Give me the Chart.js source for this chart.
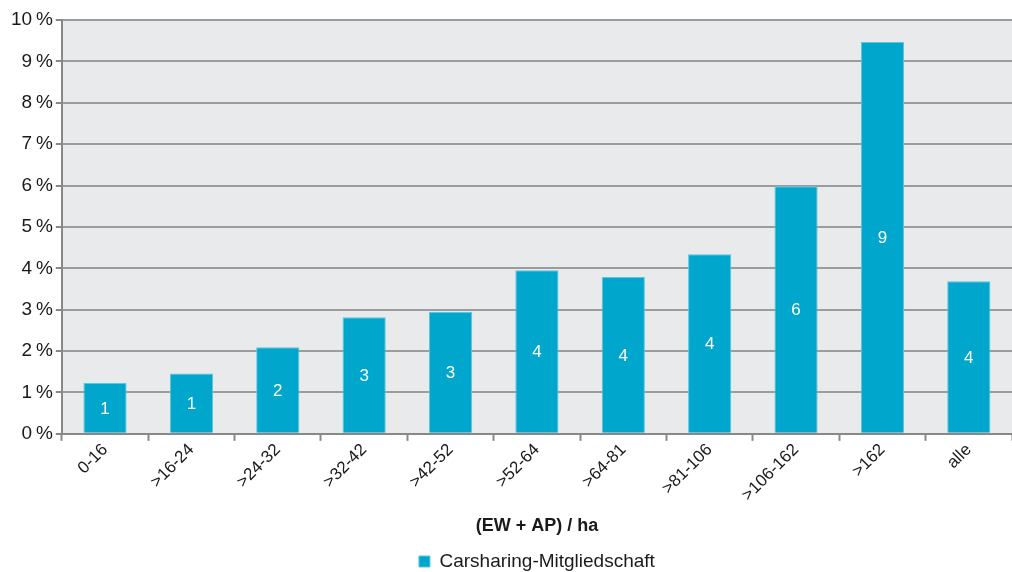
<!DOCTYPE html>
<html>
<head>
<meta charset="utf-8">
<script src="https://cdn.jsdelivr.net/npm/chart.js@4/dist/chart.umd.min.js"></script>
<style>
    body{
        margin: 0;
        background: #fff;
    }
    #wrap{
        width: 1012px;
        height: 572px;
    }
</style>
</head>
<body>
<div id="wrap"><canvas id="chart"></canvas></div>
<script>
// Dichte-Klassen (Einwohner + Arbeitsplätze je ha)
const densityClasses = ['0-16', '>16-24', '>24-32', '>32-42', '>42-52', '>52-64', '>64-81', '>81-106', '>106-162', '>162', 'alle']
// Anteil Carsharing-Mitglieder in %
const memberShare = [1.23, 1.46, 2.09, 2.82, 2.95, 3.95, 3.79, 4.34, 5.98, 9.47, 3.69]
const yTicks = [0, 1, 2, 3, 4, 5, 6, 7, 8, 9, 10]

const seriesName = 'Carsharing-Mitgliedschaft'
const axisTitle = '(EW + AP) / ha'
const barColor = '#00A6CC'

Chart.defaults.font.family = "'Liberation Sans', Arial, sans-serif"
Chart.defaults.color = '#1a1a1a'

// grey plot background
const plotBackground = {
    id: 'plotBackground',
    beforeDraw(chart){
        const {ctx, chartArea} = chart
        ctx.save()
        ctx.fillStyle = '#E9EAEC'
        ctx.fillRect(chartArea.left, chartArea.top, chartArea.right - chartArea.left, chartArea.bottom - chartArea.top)
        ctx.restore()
    }
}

// rounded value in the middle of each bar
const barLabels = {
    id: 'barLabels',
    afterDatasetsDraw(chart){
        const {ctx} = chart
        const meta = chart.getDatasetMeta(0)
        ctx.save()
        ctx.fillStyle = '#fff'
        ctx.font = "17px 'Liberation Sans', Arial, sans-serif"
        ctx.textAlign = 'center'
        ctx.textBaseline = 'middle'
        meta.data.forEach((bar, i) => {
            const mid = (bar.y + bar.base) / 2
            ctx.fillText(String(Math.round(memberShare[i])), bar.x, mid + 1)
        })
        ctx.restore()
    }
}

new Chart(document.getElementById('chart'), {
    type: 'bar',
    data: {
        labels: densityClasses,
        datasets: [{
            label: seriesName,
            data: memberShare,
            backgroundColor: barColor,
            borderColor: '#5CC6DE',
            borderWidth: 1,
            barPercentage: 0.5,
            categoryPercentage: 1,
        }]
    },
    options: {
        responsive: true,
        maintainAspectRatio: false,
        animation: false,
        layout: {
            padding: {top: 20, right: 0, left: 8, bottom: -9}
        },
        plugins: {
            tooltip: {enabled: false},
            legend: {
                position: 'bottom',
                fullSize: false,
                labels: {
                    boxWidth: 11,
                    boxHeight: 11,
                    padding: 0,
                    color: '#1a1a1a',
                    font: {size: 19}
                }
            }
        },
        scales: {
            x: {
                offset: true,
                grid: {
                    offset: true,
                    drawOnChartArea: false,
                    drawTicks: true,
                    tickLength: 7,
                    tickColor: '#888',
                    tickWidth: 2,
                },
                border: {color: '#888', width: 2},
                ticks: {
                    minRotation: 45,
                    maxRotation: 45,
                    color: '#1a1a1a',
                    font: {size: 17},
                    padding: -1,
                },
                title: {
                    display: true,
                    text: axisTitle,
                    color: '#1a1a1a',
                    font: {size: 18, weight: 'bold'},
                    padding: {top: 11, bottom: 15}
                }
            },
            y: {
                min: 0,
                max: 10,
                afterBuildTicks(axis){
                    axis.ticks = yTicks.map(v => ({value: v}))
                },
                grid: {
                    color: '#9C9C9C',
                    lineWidth: 2,
                    tickLength: 6,
                    tickColor: '#888',
                },
                border: {color: '#888', width: 2},
                ticks: {
                    color: '#1a1a1a',
                    font: {size: 19},
                    padding: 3,
                    callback: v => v + '\u2009%'
                }
            }
        }
    },
    plugins: [plotBackground, barLabels]
})
</script>
</body>
</html>
